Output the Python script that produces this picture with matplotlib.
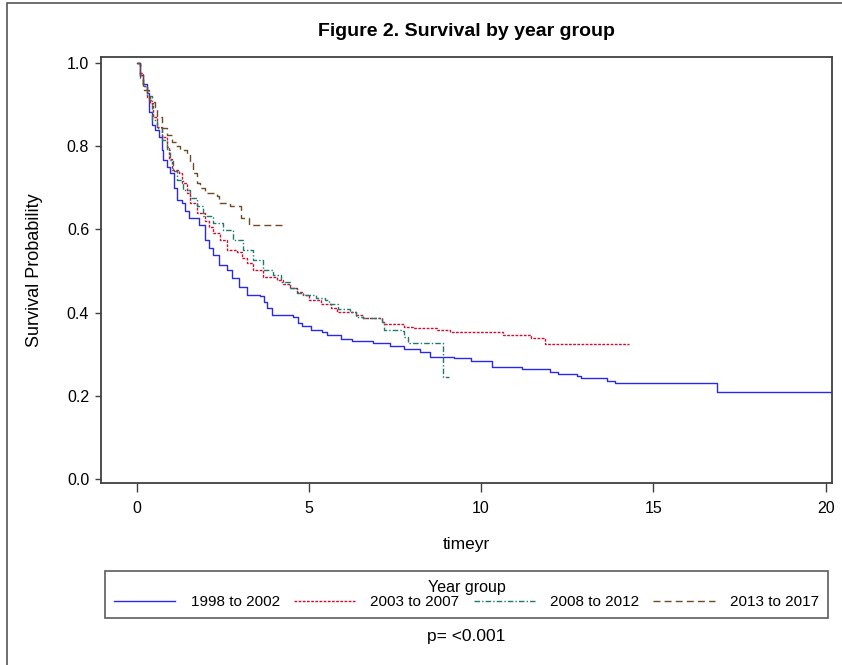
import matplotlib
matplotlib.use("Agg")
import matplotlib.pyplot as plt
from matplotlib.lines import Line2D
from matplotlib.patches import Rectangle

# Kaplan-Meier step points (time in years, survival)
groups = ["1998 to 2002", "2003 to 2007", "2008 to 2012", "2013 to 2017"]

t_9802 = [0, 0.1, 0.2, 0.3, 0.35, 0.44, 0.54, 0.64, 0.73, 0.78, 0.88, 0.975, 1.08, 1.17, 1.31,
          1.42, 1.51, 1.80, 1.99, 2.1, 2.23, 2.38, 2.62, 2.77, 2.96, 3.20, 3.59, 3.7, 3.8,
          3.93, 4.55, 4.70, 4.80, 5.05, 5.37, 5.53, 5.94, 6.26, 6.87, 7.35, 7.77, 8.23, 8.52,
          9.21, 9.71, 10.32, 11.18, 12.0, 12.24, 12.79, 12.9, 13.66, 13.89, 16.84, 20.5]
s_9802 = [1.0, 0.97, 0.95, 0.927, 0.883, 0.851, 0.839, 0.823, 0.791, 0.767, 0.751, 0.735,
          0.70, 0.67, 0.663, 0.645, 0.627, 0.61, 0.575, 0.555, 0.538, 0.514, 0.502, 0.482,
          0.462, 0.442, 0.44, 0.425, 0.41, 0.393, 0.39, 0.376, 0.368, 0.358, 0.353, 0.346,
          0.337, 0.332, 0.326, 0.320, 0.3125, 0.306, 0.294, 0.29, 0.284, 0.268, 0.264, 0.258,
          0.252, 0.2476, 0.242, 0.236, 0.23, 0.209, 0.209]

t_0307 = [0, 0.1, 0.2, 0.3, 0.39, 0.49, 0.59, 0.73, 0.88, 0.95, 1.02, 1.22, 1.31, 1.46, 1.56,
          1.75, 1.99, 2.1, 2.23, 2.43, 2.62, 2.91, 3.05, 3.20, 3.39, 3.68, 4.07, 4.25, 4.46,
          4.65, 4.84, 5.0, 5.35, 5.65, 5.81, 6.36, 6.56, 7.12, 7.19, 7.77, 8.02, 8.73, 9.10,
          10.64, 11.45, 11.85, 14.3]
s_0307 = [1.0, 0.975, 0.945, 0.919, 0.903, 0.871, 0.847, 0.823, 0.799, 0.77, 0.743, 0.735,
          0.711, 0.687, 0.663, 0.639, 0.619, 0.605, 0.591, 0.575, 0.550, 0.546, 0.532, 0.519,
          0.502, 0.486, 0.478, 0.468, 0.458, 0.450, 0.442, 0.430, 0.421, 0.410, 0.402, 0.394,
          0.386, 0.378, 0.372, 0.366, 0.362, 0.358, 0.354, 0.346, 0.338, 0.3245, 0.3245]

t_0812 = [0, 0.1, 0.2, 0.3, 0.44, 0.59, 0.73, 0.88, 0.975, 1.07, 1.17, 1.36, 1.56, 1.75, 1.94,
          2.23, 2.52, 2.81, 3.10, 3.39, 3.68, 3.97, 4.2, 4.46, 4.65, 4.84, 5.2, 5.47, 5.6,
          5.86, 6.21, 6.36, 6.56, 7.12, 7.19, 7.72, 7.77, 7.89, 8.90, 9.08]
s_0812 = [1.0, 0.97, 0.945, 0.92, 0.863, 0.843, 0.815, 0.791, 0.767, 0.74, 0.719, 0.695,
          0.675, 0.655, 0.631, 0.615, 0.599, 0.575, 0.550, 0.526, 0.502, 0.490, 0.474, 0.458,
          0.448, 0.442, 0.434, 0.430, 0.420, 0.408, 0.401, 0.390, 0.386, 0.378, 0.358, 0.356,
          0.341, 0.328, 0.246, 0.246]

t_1317 = [0, 0.1, 0.2, 0.35, 0.44, 0.54, 0.59, 0.73, 0.88, 1.02, 1.15, 1.27, 1.46, 1.56, 1.65,
          1.75, 1.85, 1.99, 2.33, 2.38, 2.72, 3.03, 3.25, 4.22]
s_1317 = [1.0, 0.965, 0.935, 0.911, 0.907, 0.895, 0.871, 0.843, 0.827, 0.811, 0.80, 0.791,
          0.779, 0.759, 0.735, 0.711, 0.70, 0.687, 0.679, 0.664, 0.655, 0.627, 0.611, 0.611]

x_ticks = [0, 5, 10, 15, 20]
y_ticks = [0.0, 0.2, 0.4, 0.6, 0.8, 1.0]

plt.rcParams["font.family"] = ["Liberation Sans", "DejaVu Sans"]

W, H = 842, 665
fig = plt.figure(figsize=(W / 100, H / 100), dpi=100)
ax = fig.add_axes([100.7 / W, 1 - 482.7 / H, (832.5 - 100.7) / W, (482.7 - 56.7) / H])

styles = [
    dict(color="#2a2ae6", linestyle="-"),
    dict(color="#cc1033", linestyle=(0, (2, 1))),
    dict(color="#1f7a6b", linestyle=(0, (4, 1.5, 1, 1.5))),
    dict(color="#6e4b28", linestyle=(0, (5, 3))),
]
series = [(t_9802, s_9802), (t_0307, s_0307), (t_0812, s_0812), (t_1317, s_1317)]

handles = []
for (t, s), st, name in zip(series, styles, groups):
    ax.plot(t, s, drawstyle="steps-post", lw=1.0, **st)
    handles.append(Line2D([], [], lw=1.0, **st, label=name))

ax.set_xlim(-1.04, 20.2)
ax.set_ylim(-0.009, 1.015)
ax.set_xticks(x_ticks)
ax.set_yticks(y_ticks)
ax.set_yticklabels([f"{v:.1f}" for v in y_ticks])
ax.tick_params(axis="x", length=6.5, width=1, color="#404040", pad=7, labelsize=11.5)
ax.tick_params(axis="y", length=4.3, width=1, color="#404040", pad=4, labelsize=11.5)
for sp in ax.spines.values():
    sp.set_color("#404040")
    sp.set_linewidth(1.3)

fig.text(466.6 / W, 1 - 32 / H, "Figure 2. Survival by year group", ha="center", va="center",
         fontsize=14, fontweight="bold")
fig.text(35 / W, 1 - 269.7 / H, "Survival Probability", rotation=90, ha="center", va="center",
         fontsize=13)
fig.text(466.6 / W, 1 - 545 / H, "timeyr", ha="center", va="center", fontsize=12.5)
fig.text(466.6 / W, 1 - 637 / H, "p= <0.001", ha="center", va="center", fontsize=12.5)

leg = fig.legend(handles=handles, loc="upper left", ncol=4, mode="expand",
                 bbox_to_anchor=(105 / W, 1 - 620 / H, (828 - 105) / W, (620 - 571) / H),
                 title="Year group", fontsize=11, title_fontsize=11.5, frameon=True,
                 fancybox=False, edgecolor="#333333", handlelength=4.0, handletextpad=1.0,
                 borderpad=0.6, borderaxespad=0, labelspacing=0.2)
leg.get_frame().set_linewidth(1.2)
leg._legend_box.sep = 0

# outer border (only top/left visible in the original crop)
fig.add_artist(Rectangle((7 / W, -0.1), 1.2, 1 - 3 / H + 0.1, transform=fig.transFigure,
                         fill=False, edgecolor="#555555", lw=1.2, clip_on=False))

fig.savefig("out.png", dpi=100)
